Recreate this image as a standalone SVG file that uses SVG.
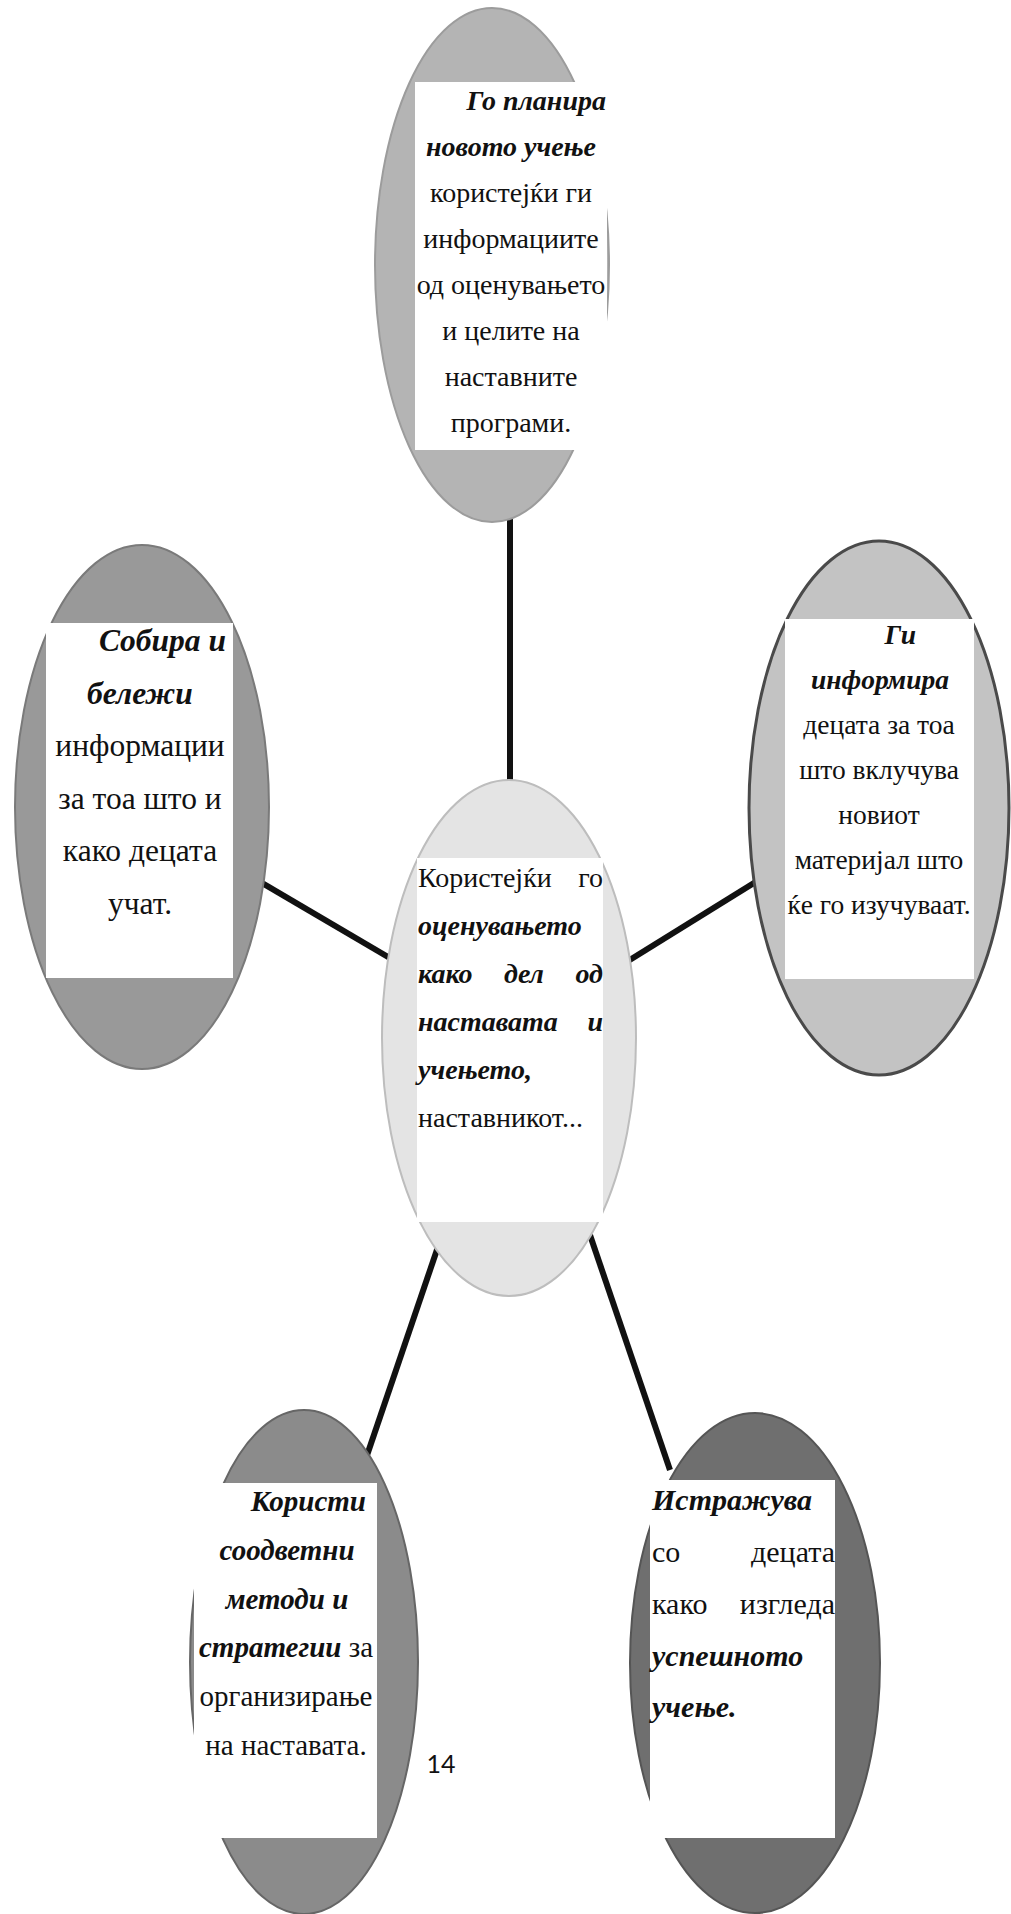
<svg xmlns="http://www.w3.org/2000/svg" width="1011" height="1914" viewBox="0 0 1011 1914">
<style>
text{font-family:"Liberation Serif","Times New Roman",serif;fill:#111}
.b{font-weight:bold;font-style:italic}
.m{text-anchor:middle}
.e{text-anchor:end}
.box{fill:#fff}
.conn{stroke:#111;stroke-width:6;stroke-linecap:butt;fill:none}
</style>
<rect width="1011" height="1914" fill="#fff"/>
<g id="connectors">
<line class="conn" x1="510" y1="500" x2="510" y2="800"/>
<line class="conn" x1="250" y1="876" x2="400" y2="964"/>
<line class="conn" x1="620" y1="966" x2="775" y2="870"/>
<line class="conn" x1="442" y1="1235" x2="362" y2="1470"/>
<line class="conn" x1="590" y1="1235" x2="670" y2="1470"/>
</g>
<g id="node-top">
<ellipse cx="492" cy="265" rx="117" ry="257" fill="#b4b4b4" stroke="#9c9c9c" stroke-width="2"/>
<rect class="box" x="415" y="82" width="192" height="368"/>
<g font-size="28">
<text class="b e" x="606" y="110">Го планира</text>
<text class="b m" x="511" y="156">новото учење</text>
<text class="m" x="511" y="202">користејќи ги</text>
<text class="m" x="511" y="248">информациите</text>
<text class="m" x="511" y="294">од оценувањето</text>
<text class="m" x="511" y="340">и целите на</text>
<text class="m" x="511" y="386">наставните</text>
<text class="m" x="511" y="432">програми.</text>
</g>
</g>
<g id="node-left">
<ellipse cx="142" cy="807" rx="127" ry="262" fill="#999" stroke="#7a7a7a" stroke-width="2"/>
<rect class="box" x="46" y="623" width="187" height="355"/>
<g font-size="31.5">
<text class="b e" x="226" y="651">Собира и</text>
<text class="b m" x="140" y="704">бележи</text>
<text class="m" x="140" y="756">информации</text>
<text class="m" x="140" y="809">за тоа што и</text>
<text class="m" x="140" y="861">како децата</text>
<text class="m" x="140" y="914">учат.</text>
</g>
</g>
<g id="node-right">
<ellipse cx="879" cy="808" rx="130" ry="267" fill="#c3c3c3" stroke="#4a4a4a" stroke-width="3"/>
<rect class="box" x="785" y="619" width="189" height="360"/>
<g font-size="27.5">
<text class="b e" x="916" y="644">Ги</text>
<text class="b m" x="880" y="689">информира</text>
<text class="m" x="879" y="734">децата за тоа</text>
<text class="m" x="879" y="779">што вклучува</text>
<text class="m" x="879" y="824">новиот</text>
<text class="m" x="879" y="869">материјал што</text>
<text class="m" x="879" y="914">ќе го изучуваат.</text>
</g>
</g>
<g id="node-center">
<ellipse cx="509" cy="1038" rx="127" ry="258" fill="#e4e4e4" stroke="#bdbdbd" stroke-width="2"/>
<rect class="box" x="417" y="858" width="186" height="364"/>
<g font-size="28">
<text x="418" y="887">Користејќи</text>
<text class="e" x="603" y="887">го</text>
<text class="b" x="418" y="935">оценувањето</text>
<text class="b" x="418" y="983">како</text>
<text class="b m" x="524" y="983">дел</text>
<text class="b e" x="603" y="983">од</text>
<text class="b" x="418" y="1031">наставата</text>
<text class="b e" x="603" y="1031">и</text>
<text class="b" x="418" y="1079">учењето,</text>
<text x="418" y="1127">наставникот...</text>
</g>
</g>
<g id="node-bottom-left">
<ellipse cx="304" cy="1662" rx="114" ry="252" fill="#8b8b8b" stroke="#666" stroke-width="2"/>
<rect class="box" x="194" y="1483" width="183" height="355"/>
<g font-size="29">
<text class="b e" x="366" y="1511">Користи</text>
<text class="b m" x="287" y="1560">соодветни</text>
<text class="b m" x="287" y="1609">методи и</text>
<text class="m" x="286" y="1657"><tspan class="b">стратегии</tspan> за</text>
<text class="m" x="286" y="1706">организирање</text>
<text class="m" x="286" y="1755">на наставата.</text>
</g>
</g>
<g id="node-bottom-right">
<ellipse cx="755" cy="1663" rx="125" ry="250" fill="#6f6f6f" stroke="#555" stroke-width="2"/>
<rect class="box" x="650" y="1480" width="185" height="358"/>
<g font-size="30">
<text class="b" x="652" y="1510">Истражува</text>
<text x="652" y="1562">со</text>
<text class="e" x="835" y="1562">децата</text>
<text x="652" y="1614">како</text>
<text class="e" x="835" y="1614">изгледа</text>
<text class="b" x="652" y="1666">успешното</text>
<text class="b" x="652" y="1717">учење.</text>
</g>
</g>
<text x="441" y="1773" font-size="25" text-anchor="middle" style="font-family:Lato,'Open Sans',sans-serif">14</text>
</svg>
